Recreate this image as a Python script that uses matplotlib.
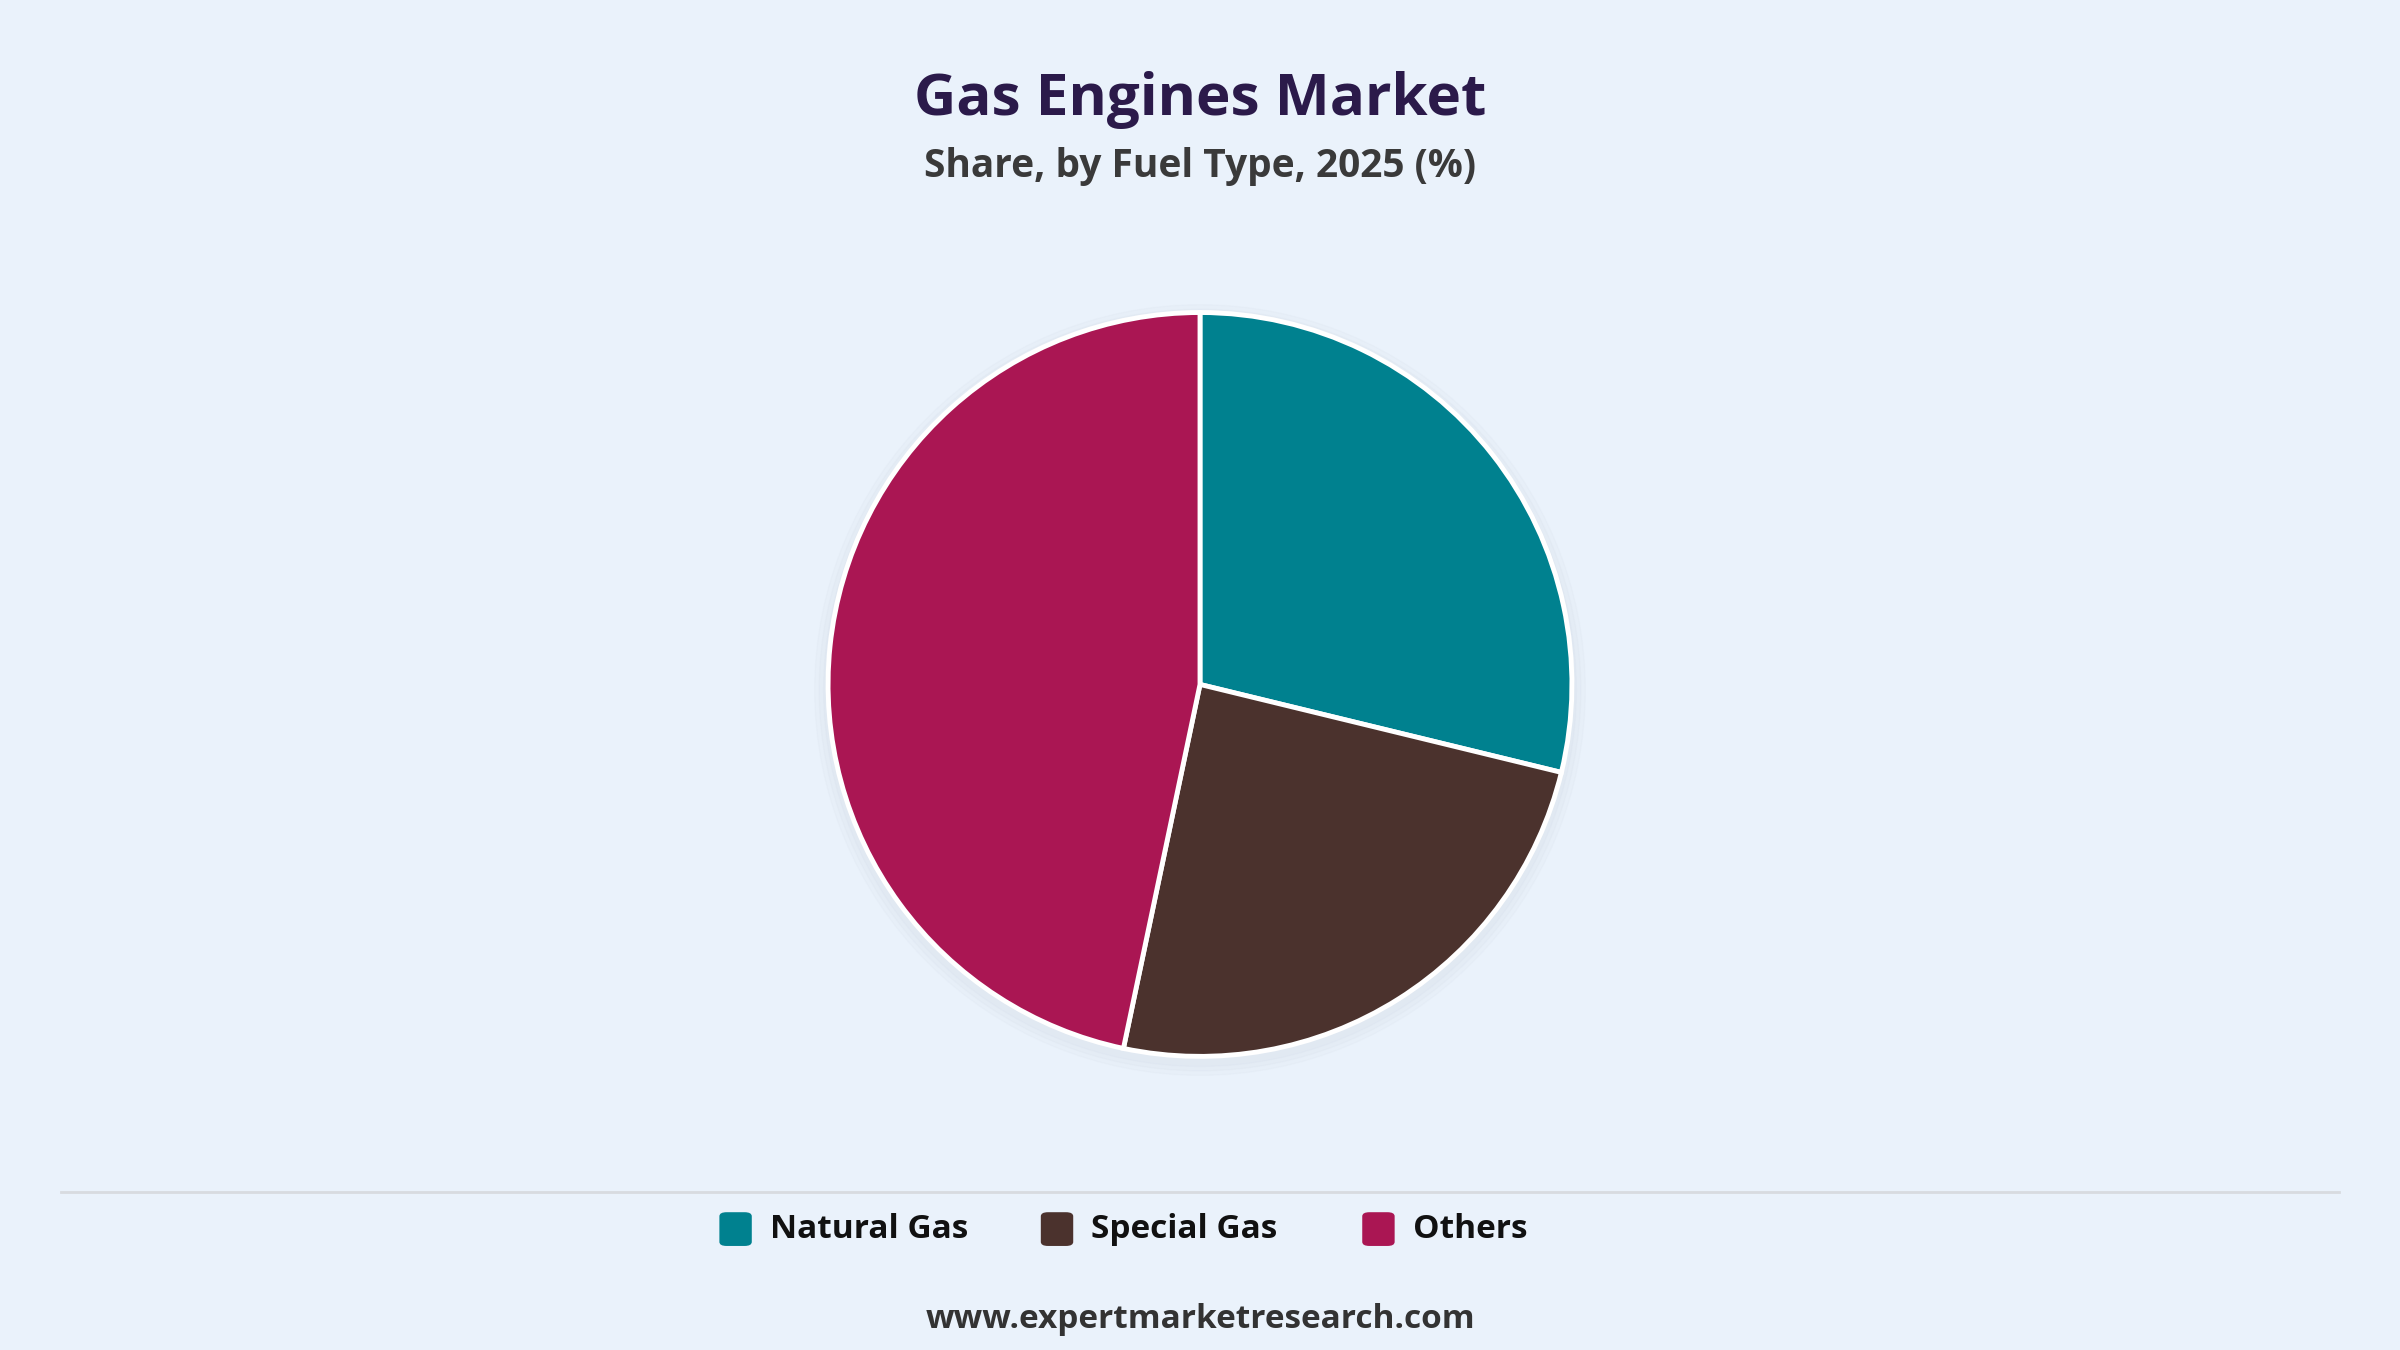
import matplotlib
matplotlib.use("Agg")
import matplotlib.pyplot as plt
from matplotlib.patches import FancyBboxPatch
from matplotlib.lines import Line2D

categories = ["Natural Gas", "Special Gas", "Others"]
values = [28.8, 24.5, 46.7]
colors = ["#00818F", "#4B322D", "#AA1653"]
bg = "#EAF2FB"

plt.rcParams['font.family'] = ['Open Sans', 'DejaVu Sans']
fig = plt.figure(figsize=(24, 13.5), dpi=100, facecolor=bg)

rh = 0.2755
rw = rh * 1350 / 2400
cx, cy = 0.5, 0.493
ax = fig.add_axes([cx - rw, cy - rh, 2 * rw, 2 * rh])
ax.set_facecolor(bg)
ax.axis('off')
for i in range(3):
    c = plt.Circle((0.0, -0.015), 1.0 + 0.012 * (i + 1), color="#9aa6b5", alpha=0.03,
                   zorder=0, clip_on=False)
    ax.add_patch(c)
wedges, _ = ax.pie(values, colors=colors, startangle=90, counterclock=False,
                   wedgeprops=dict(edgecolor="white", linewidth=3.5), radius=1.0)
for w in wedges:
    w.set_clip_on(False)
ax.set_xlim(-1.0, 1.0); ax.set_ylim(-1.0, 1.0)
ax.set_aspect('equal')

fig.text(0.5, 0.926, "Gas Engines Market", ha='center', va='center',
         fontsize=42, fontweight='bold', color="#2B1A4A")
fig.text(0.5, 0.877, "Share, by Fuel Type, 2025 (%)", ha='center', va='center',
         fontsize=28, fontweight='bold', color="#3a3a3a")

fig.add_artist(Line2D([40/1568, 1528/1568], [1-779/882]*2, color="#d8dbe0", lw=2))

lx = [470/1568, 680/1568, 890/1568]
ly = 1 - 803/882
for x, lab, col in zip(lx, categories, colors):
    fig.add_artist(FancyBboxPatch((x, ly - 0.0125), 0.0135, 0.025,
                   boxstyle="round,pad=0,rounding_size=0.003", fc=col, ec='none',
                   transform=fig.transFigure))
    fig.text(x + 0.021, ly, lab, ha='left', va='center', fontsize=24,
             fontweight='bold', color="#111111")

fig.text(0.5, 1 - 862/882, "www.expertmarketresearch.com", ha='center', va='center',
         fontsize=24, fontweight='bold', color="#333333")

fig.savefig("out.png", dpi=100, facecolor=bg)
